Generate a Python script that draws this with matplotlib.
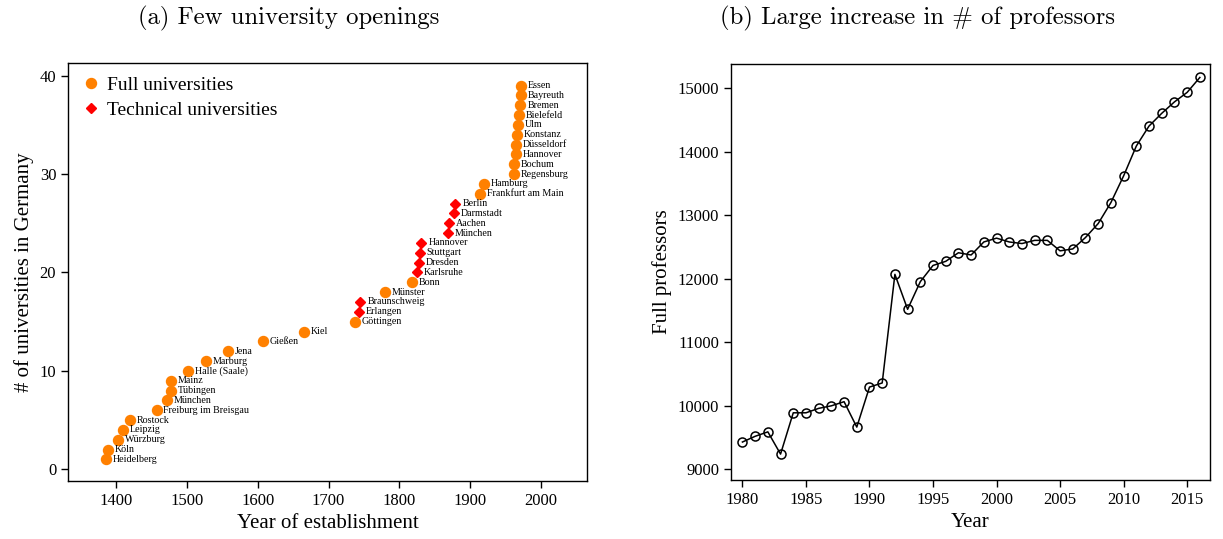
"""
Two panels: university openings in Germany (a) and number of full professors (b).
"""

import matplotlib.pyplot as plt

# (a) universities in order of establishment
uni_names = [
    "Heidelberg", "Köln", "Würzburg", "Leipzig", "Rostock",
    "Freiburg im Breisgau", "München", "Tübingen", "Mainz", "Halle (Saale)",
    "Marburg", "Jena", "Gießen", "Kiel", "Göttingen",
    "Erlangen", "Braunschweig", "Münster", "Bonn", "Karlsruhe",
    "Dresden", "Stuttgart", "Hannover", "München", "Aachen",
    "Darmstadt", "Berlin", "Frankfurt am Main", "Hamburg", "Regensburg",
    "Bochum", "Hannover", "Düsseldorf", "Konstanz", "Ulm",
    "Bielefeld", "Bremen", "Bayreuth", "Essen",
]
uni_years = [
    1386, 1388, 1402, 1409, 1419,
    1457, 1472, 1477, 1477, 1502,
    1527, 1558, 1607, 1665, 1737,
    1743, 1745, 1780, 1818, 1825,
    1828, 1829, 1831, 1868, 1870,
    1877, 1879, 1914, 1919, 1962,
    1962, 1965, 1965, 1966, 1967,
    1969, 1971, 1972, 1972,
]
uni_technical = [
    False, False, False, False, False,
    False, False, False, False, False,
    False, False, False, False, False,
    True, True, False, False, True,
    True, True, True, True, True,
    True, True, False, False, False,
    False, False, False, False, False,
    False, False, False, False,
]
uni_count = list(range(1, len(uni_names) + 1))

# (b) full professors per year
prof_years = list(range(1980, 2017))
prof_counts = [
    9430, 9520, 9590, 9240, 9890, 9890, 9960, 10000, 10065, 9665,
    10295, 10360, 12070, 11520, 11955, 12210, 12275, 12410, 12375, 12580,
    12640, 12580, 12555, 12605, 12605, 12440, 12470, 12650, 12870, 13200,
    13620, 14090, 14405, 14605, 14785, 14935, 15170,
]

ORANGE = "#ff8000"
RED = "#ff0000"
SERIF = ["Liberation Serif", "DejaVu Serif"]
TITLE_FONT = ["cmr10", "DejaVu Serif"]

plt.rcParams["font.family"] = SERIF
plt.rcParams["axes.linewidth"] = 1.0

fig = plt.figure(figsize=(12.23, 5.39), dpi=100)
W, H = 1223, 539
ax_a = fig.add_axes([68 / W, 1 - 481 / H, (587 - 68) / W, (481 - 63) / H])
ax_b = fig.add_axes([731 / W, 1 - 480 / H, (1210 - 731) / W, (480 - 64) / H])

# panel (a)
full_x = [y for y, t in zip(uni_years, uni_technical) if not t]
full_y = [c for c, t in zip(uni_count, uni_technical) if not t]
tech_x = [y for y, t in zip(uni_years, uni_technical) if t]
tech_y = [c for c, t in zip(uni_count, uni_technical) if t]
ax_a.plot(full_x, full_y, "o", color=ORANGE, markersize=7.2, linestyle="none",
          label="Full universities", zorder=3)
ax_a.plot(tech_x, tech_y, "D", color=RED, markersize=5.2, linestyle="none",
          label="Technical universities", zorder=3)
for name, year, count in zip(uni_names, uni_years, uni_count):
    ax_a.annotate(name, (year, count), xytext=(5, 0), textcoords="offset points",
                  va="center", ha="left", fontsize=7.2)

ax_a.set_xlim(1332, 2065)
ax_a.set_ylim(-1.2, 41.3)
ax_a.set_xticks(range(1400, 2001, 100))
ax_a.set_yticks(range(0, 41, 10))
ax_a.set_xlabel("Year of establishment", fontsize=15)
ax_a.set_ylabel("# of universities in Germany", fontsize=15)
ax_a.legend(loc="upper left", frameon=False, fontsize=14, handletextpad=0.3,
            borderaxespad=0.3, labelspacing=0.35, handlelength=1.0)

# panel (b)
ax_b.plot(prof_years, prof_counts, color="black", linewidth=1.1, marker="o",
          markersize=6.5, markerfacecolor="none", markeredgecolor="black",
          markeredgewidth=1.1)
ax_b.set_xlim(1979.1, 2016.8)
ax_b.set_ylim(8832, 15382)
ax_b.set_xticks(range(1980, 2016, 5))
ax_b.set_yticks(range(9000, 15001, 1000))
ax_b.set_xlabel("Year", fontsize=15)
ax_b.set_ylabel("Full professors", fontsize=15)

for ax in (ax_a, ax_b):
    ax.tick_params(direction="out", length=5, width=1.0, labelsize=12)

fig.text(289 / W, 1 - 18 / H, "(a) Few university openings", ha="center",
         va="center", fontsize=17.8, family=TITLE_FONT)
fig.text(918 / W, 1 - 18 / H, r"(b) Large increase in # of professors", ha="center",
         va="center", fontsize=17.8, family=TITLE_FONT)

fig.savefig("out.png", dpi=100)
